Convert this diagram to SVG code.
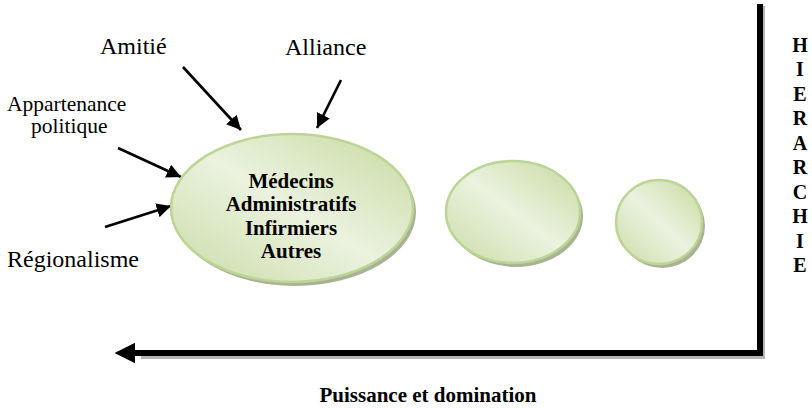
<svg xmlns="http://www.w3.org/2000/svg" width="812" height="408" viewBox="0 0 812 408">
<defs>
<linearGradient id="g" x1="1" y1="0" x2="0" y2="1">
<stop offset="0" stop-color="#c6da9f"/>
<stop offset="0.5" stop-color="#ebf2df"/>
<stop offset="1" stop-color="#c9dca7"/>
</linearGradient>
<marker id="ah" viewBox="0 0 10 10" refX="10" refY="5" markerWidth="5.5" markerHeight="5.5" orient="auto" markerUnits="strokeWidth">
<path d="M0,0 L10,5 L0,10 z" fill="#000"/>
</marker>
<marker id="big" viewBox="0 0 10 10" refX="0" refY="5" markerWidth="3.4" markerHeight="3.4" orient="auto-start-reverse" markerUnits="strokeWidth">
<path d="M0,0 L10,5 L0,10 z" fill="#000"/>
</marker>
</defs>
<style>
text{font-family:'Liberation Serif','Times New Roman',Tinos,'DejaVu Serif',serif;fill:#000}
.bub{fill:url(#g);stroke:#bcd494;stroke-width:2.5}
.sh{fill:#a9b196}
.lbl{font-size:24px}
.sm{font-size:21.5px}
.b{font-weight:bold;font-size:21px;text-anchor:middle}
.arr{stroke:#000;stroke-width:2.6;fill:none;marker-end:url(#ah)}
.axis{stroke:#000;stroke-width:6;fill:none}
</style>
<rect width="812" height="408" fill="#fff"/>
<g id="connectors">
<line class="arr" x1="183" y1="67" x2="241" y2="130"/>
<line class="arr" x1="341" y1="80" x2="317" y2="128"/>
<line class="arr" x1="118" y1="148" x2="181" y2="177"/>
<line class="arr" x1="105" y1="227" x2="171" y2="206"/>
</g>
<g id="axis">
<path d="M762,6 L762,356 L141,356" stroke="#b5b5b5" stroke-width="6" fill="none"/>
<path class="axis" d="M760,4 L760,353 L135,353" marker-end="url(#big)"/>
</g>
<g id="node-main">
<ellipse class="sh" cx="295" cy="212" rx="121" ry="74"/>
<ellipse class="bub" cx="292" cy="208" rx="121" ry="74"/>
<text class="b" x="291" y="188">Médecins</text>
<text class="b" x="291" y="211">Administratifs</text>
<text class="b" x="291" y="235">Infirmiers</text>
<text class="b" x="291" y="258">Autres</text>
</g>
<g id="node-mid">
<ellipse class="sh" cx="516" cy="216" rx="67" ry="51"/>
<ellipse class="bub" cx="513" cy="212" rx="67" ry="51"/>
</g>
<g id="node-small">
<ellipse class="sh" cx="662" cy="226" rx="43" ry="42"/>
<ellipse class="bub" cx="659" cy="222" rx="43" ry="42"/>
</g>
<g id="labels">
<text class="lbl" x="100" y="54">Amitié</text>
<text class="lbl" x="285" y="55">Alliance</text>
<text class="lbl sm" x="7" y="111">Appartenance</text>
<text class="lbl sm" x="31" y="133">politique</text>
<text class="lbl" x="7" y="267">Régionalisme</text>
</g>
<g id="hierarchie" style="font-weight:bold;font-size:20px;text-anchor:middle">
<text x="800" y="52">H</text>
<text x="800" y="76">I</text>
<text x="800" y="101">E</text>
<text x="800" y="125">R</text>
<text x="800" y="150">A</text>
<text x="800" y="174">R</text>
<text x="800" y="199">C</text>
<text x="800" y="223">H</text>
<text x="800" y="248">I</text>
<text x="800" y="272">E</text>
</g>
<text class="b" x="428" y="402">Puissance et domination</text>
</svg>
